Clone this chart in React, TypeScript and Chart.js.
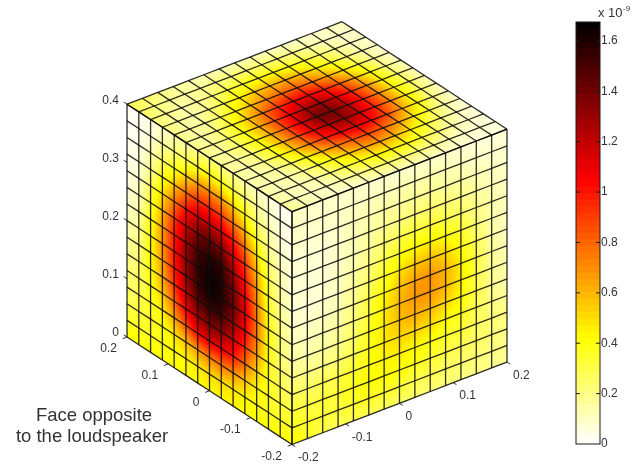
import React, { useEffect, useRef } from "react";
import { Chart, registerables } from "chart.js";

Chart.register(...registerables);

// Pressure values at the mesh nodes, in hundredths of 1e-9.
// Rows run from the top of the cube down; columns run from the left corner towards the front corner.
const LEFT_FACE = [
  [1, 2, 4, 9, 12, 14, 19, 22, 21, 18, 15, 11, 6, 3, 2],
  [2, 3, 7, 14, 22, 28, 36, 40, 38, 30, 24, 16, 10, 5, 3],
  [3, 4, 12, 26, 36, 52, 66, 70, 66, 55, 40, 24, 14, 7, 4],
  [4, 6, 18, 36, 56, 78, 92, 95, 90, 76, 58, 35, 18, 9, 5],
  [5, 8, 26, 50, 76, 100, 118, 122, 115, 98, 76, 49, 24, 13, 6],
  [7, 11, 32, 60, 90, 118, 138, 145, 138, 116, 90, 60, 30, 15, 7],
  [9, 14, 37, 66, 98, 128, 150, 160, 155, 130, 100, 67, 34, 17, 9],
  [12, 18, 40, 68, 100, 132, 156, 165, 160, 140, 108, 73, 38, 20, 12],
  [15, 21, 41, 66, 98, 130, 154, 165, 160, 142, 112, 76, 40, 22, 14],
  [18, 24, 40, 62, 92, 122, 146, 156, 152, 134, 106, 74, 40, 24, 16],
  [22, 26, 38, 56, 80, 108, 130, 138, 134, 118, 94, 66, 38, 26, 20],
  [25, 28, 36, 46, 64, 86, 106, 112, 110, 100, 78, 54, 36, 29, 25],
  [30, 31, 34, 40, 48, 58, 68, 74, 76, 70, 56, 44, 36, 33, 31],
  [36, 36, 37, 38, 41, 44, 47, 50, 50, 48, 44, 40, 37, 36, 36],
  [43, 42, 42, 41, 41, 42, 42, 43, 43, 43, 42, 41, 41, 42, 43],
];

// Rows from the top down; columns from the front corner towards the right corner.
const RIGHT_FACE = [
  [10, 9, 8, 8, 8, 8, 8, 8, 8, 8, 8, 7, 7, 6, 6],
  [10, 9, 9, 9, 10, 11, 11, 12, 13, 13, 12, 11, 9, 8, 8],
  [9, 8, 8, 9, 11, 13, 15, 17, 18, 18, 17, 15, 13, 10, 9],
  [7, 7, 7, 9, 12, 15, 18, 21, 23, 24, 23, 20, 16, 12, 10],
  [7, 7, 7, 9, 13, 18, 23, 29, 33, 33, 31, 26, 20, 14, 11],
  [7, 7, 7, 10, 15, 21, 30, 38, 43, 45, 41, 33, 24, 14, 11],
  [7, 7, 8, 11, 17, 25, 36, 48, 56, 58, 52, 40, 27, 15, 11],
  [9, 9, 10, 13, 20, 30, 42, 56, 66, 68, 60, 46, 30, 17, 12],
  [12, 12, 13, 16, 23, 33, 46, 60, 68, 68, 60, 46, 31, 18, 13],
  [15, 15, 16, 19, 26, 36, 48, 58, 62, 60, 52, 42, 30, 19, 14],
  [20, 20, 21, 24, 30, 38, 47, 52, 52, 49, 43, 36, 28, 21, 17],
  [27, 26, 27, 30, 35, 40, 44, 45, 43, 40, 36, 32, 27, 23, 20],
  [33, 31, 31, 34, 38, 41, 42, 41, 38, 34, 31, 28, 26, 23, 20],
  [38, 35, 32, 32, 35, 36, 35, 33, 30, 28, 26, 24, 23, 21, 19],
  [43, 36, 30, 28, 29, 28, 27, 26, 25, 23, 22, 21, 20, 19, 18],
];

// Rows from the left/back edge towards the front/right edge; columns from the left corner towards the back corner.
const TOP_FACE = [
  [28, 25, 20, 16, 13, 12, 12, 12, 11, 10, 9, 9, 9, 10, 12],
  [27, 22, 18, 16, 17, 20, 23, 24, 24, 22, 19, 15, 11, 9, 9],
  [24, 19, 15, 16, 22, 30, 36, 40, 41, 38, 32, 25, 17, 11, 9],
  [22, 17, 14, 20, 30, 44, 54, 60, 63, 58, 47, 35, 23, 13, 9],
  [20, 15, 17, 27, 42, 59, 72, 80, 83, 76, 64, 48, 31, 17, 9],
  [19, 15, 21, 36, 56, 76, 94, 104, 108, 99, 84, 62, 40, 22, 10],
  [19, 17, 25, 41, 62, 85, 108, 126, 130, 116, 94, 70, 45, 25, 11],
  [18, 17, 26, 42, 62, 88, 114, 138, 140, 124, 98, 72, 46, 26, 11],
  [17, 17, 24, 40, 61, 86, 110, 128, 132, 118, 96, 72, 45, 24, 10],
  [16, 15, 21, 35, 56, 76, 96, 108, 112, 104, 86, 64, 40, 20, 9],
  [15, 14, 17, 27, 42, 60, 74, 84, 88, 80, 66, 48, 30, 15, 8],
  [14, 13, 14, 20, 30, 44, 56, 64, 66, 60, 48, 33, 21, 11, 7],
  [14, 12, 12, 15, 22, 31, 38, 43, 44, 40, 33, 23, 14, 9, 6],
  [16, 12, 11, 11, 14, 19, 23, 25, 25, 22, 18, 13, 9, 7, 6],
  [20, 15, 11, 9, 9, 10, 11, 11, 11, 10, 9, 8, 7, 6, 6],
];

const HORIZONTAL_TICKS = [-0.2, -0.1, 0, 0.1, 0.2];
const HORIZONTAL_LABELS = ["-0.2", "-0.1", "0", "0.1", "0.2"];
const HEIGHT_TICKS = [0, 0.1, 0.2, 0.3, 0.4];
const HEIGHT_LABELS = ["0", "0.1", "0.2", "0.3", "0.4"];
const COLORBAR_TICKS = [0, 0.2, 0.4, 0.6, 0.8, 1, 1.2, 1.4, 1.6];
const COLORBAR_LABELS = ["0", "0.2", "0.4", "0.6", "0.8", "1", "1.2", "1.4", "1.6"];
const COLORBAR_MAX = 1.675;
const COLOR_LEVELS = 64;
const NOTE_LINES = ["Face opposite", "to the loudspeaker"];
const EXPONENT_BASE = "x 10";
const EXPONENT_POWER = "-9";

const FONT = '"Liberation Sans", Arial, sans-serif';
const TEXT_COLOR = "#333333";
const MESH_COLOR = "rgba(15,15,15,0.88)";
const NODES = 15;
const HALF = 0.2;
const TOP = 0.4;

// MATLAB's default 3-D view.
const AZ = (-37.5 * Math.PI) / 180;
const EL = (30 * Math.PI) / 180;
const Z_ASPECT = 0.992;

type V3 = [number, number, number];

function project([x, y, z]: V3) {
  return {
    x: Math.cos(AZ) * x + Math.sin(AZ) * y,
    y: -Math.sin(EL) * Math.sin(AZ) * x + Math.sin(EL) * Math.cos(AZ) * y + Math.cos(EL) * z * Z_ASPECT,
  };
}

const frac = (i: number) => i / (NODES - 1);
const up = (f: number) => -HALF + 2 * HALF * f;
const down = (f: number) => HALF - 2 * HALF * f;

const faces = [
  { rows: LEFT_FACE, node: (i: number, j: number): V3 => [-HALF, down(frac(i)), TOP * (1 - frac(j))] },
  { rows: RIGHT_FACE, node: (i: number, j: number): V3 => [up(frac(i)), -HALF, TOP * (1 - frac(j))] },
  { rows: TOP_FACE, node: (i: number, j: number): V3 => [up(frac(i)), down(frac(j)), TOP] },
];

function hotReversed(v: number): [number, number, number] {
  const t = Math.max(0, Math.min(1, v / COLORBAR_MAX));
  const r = t < 0.625 ? 1 : 1 - (t - 0.625) / 0.375;
  const g = t < 0.25 ? 1 : t < 0.625 ? 1 - (t - 0.25) / 0.375 : 0;
  const b = t < 0.25 ? 1 - t / 0.25 : 0;
  return [Math.round(r * 255), Math.round(g * 255), Math.round(b * 255)];
}

const SUB = 6;
function faceImage(rows: number[][]) {
  const n = (NODES - 1) * SUB + 1;
  const off = document.createElement("canvas");
  off.width = n;
  off.height = n;
  const octx = off.getContext("2d")!;
  const img = octx.createImageData(n, n);
  for (let py = 0; py < n; py++) {
    const fy = py / SUB;
    const j0 = Math.min(NODES - 2, Math.floor(fy));
    const ty = fy - j0;
    for (let px = 0; px < n; px++) {
      const fx = px / SUB;
      const i0 = Math.min(NODES - 2, Math.floor(fx));
      const tx = fx - i0;
      const v =
        (rows[j0][i0] * (1 - tx) * (1 - ty) +
          rows[j0][i0 + 1] * tx * (1 - ty) +
          rows[j0 + 1][i0] * (1 - tx) * ty +
          rows[j0 + 1][i0 + 1] * tx * ty) /
        100;
      const [r, g, b] = hotReversed(v);
      const k = (py * n + px) * 4;
      img.data[k] = r;
      img.data[k + 1] = g;
      img.data[k + 2] = b;
      img.data[k + 3] = 255;
    }
  }
  octx.putImageData(img, 0, 0);
  return { off, n };
}

const heatPlugin = {
  id: "heatFaces",
  beforeDatasetsDraw(chart: any) {
    const { ctx, scales } = chart;
    for (const ds of chart.data.datasets) {
      if (!ds.faceRows) continue;
      const px = (p: any) => ({ x: scales.x.getPixelForValue(p.x), y: scales.y.getPixelForValue(p.y) });
      const p00 = px(ds.data[0]);
      const p10 = px(ds.data[NODES - 1]);
      const p01 = px(ds.data[(NODES - 1) * NODES]);
      const { off, n } = faceImage(ds.faceRows);
      const span = n - 1;
      ctx.save();
      ctx.imageSmoothingEnabled = true;
      ctx.transform(
        (p10.x - p00.x) / span,
        (p10.y - p00.y) / span,
        (p01.x - p00.x) / span,
        (p01.y - p00.y) / span,
        p00.x,
        p00.y
      );
      ctx.drawImage(off, 0.5, 0.5, span, span, 0, 0, span, span);
      ctx.restore();
    }
  },
};

const labelsPlugin = {
  id: "axisLabels",
  afterDatasetsDraw(chart: any) {
    const { ctx, scales } = chart;
    const at = (v: V3) => {
      const p = project(v);
      return { x: scales.x.getPixelForValue(p.x), y: scales.y.getPixelForValue(p.y) };
    };
    ctx.save();
    ctx.fillStyle = TEXT_COLOR;
    ctx.textBaseline = "middle";
    ctx.font = `12px ${FONT}`;
    ctx.textAlign = "right";
    HEIGHT_TICKS.forEach((z, i) => {
      const p = at([-HALF, HALF, z]);
      ctx.fillText(HEIGHT_LABELS[i], p.x - 8, p.y - 4);
    });
    HORIZONTAL_TICKS.forEach((y, i) => {
      const p = at([-HALF, y, 0]);
      ctx.fillText(HORIZONTAL_LABELS[i], p.x - 10, p.y + 12);
    });
    ctx.textAlign = "left";
    HORIZONTAL_TICKS.forEach((x, i) => {
      const p = at([x, -HALF, 0]);
      ctx.fillText(HORIZONTAL_LABELS[i], p.x + 6, p.y + 13.5);
    });
    ctx.font = `18.5px ${FONT}`;
    ctx.textAlign = "center";
    ctx.fillText(NOTE_LINES[0], 94, 416);
    ctx.fillText(NOTE_LINES[1], 92, 437);
    ctx.restore();
  },
};

const colorbarPlugin = {
  id: "colorbarFrame",
  afterDatasetsDraw(chart: any) {
    const { ctx, chartArea: a, scales } = chart;
    ctx.save();
    ctx.strokeStyle = "#1a1a1a";
    ctx.lineWidth = 1;
    ctx.strokeRect(a.left, a.top, a.right - a.left, a.bottom - a.top);
    ctx.beginPath();
    COLORBAR_TICKS.slice(1).forEach((t) => {
      const y = scales.y.getPixelForValue(t);
      ctx.moveTo(a.left, y);
      ctx.lineTo(a.left + 4, y);
      ctx.moveTo(a.right - 4, y);
      ctx.lineTo(a.right, y);
    });
    ctx.stroke();
    ctx.fillStyle = TEXT_COLOR;
    ctx.textBaseline = "middle";
    ctx.textAlign = "left";
    ctx.font = `13px ${FONT}`;
    ctx.fillText(EXPONENT_BASE, a.right - 2, 13);
    ctx.font = `8px ${FONT}`;
    ctx.fillText(EXPONENT_POWER, a.right + 23, 9);
    ctx.restore();
  },
};

export default function App() {
  const cubeRef = useRef<HTMLCanvasElement>(null);
  const barRef = useRef<HTMLCanvasElement>(null);

  useEffect(() => {
    const datasets: any[] = [];
    faces.forEach((f) => {
      const pts: any[] = [];
      for (let j = 0; j < NODES; j++) for (let i = 0; i < NODES; i++) pts.push(project(f.node(i, j)));
      datasets.push({ data: pts, faceRows: f.rows, pointRadius: 0, showLine: false });
    });
    const line = (pts: V3[], width: number, color: string) =>
      datasets.push({
        data: pts.map(project),
        showLine: true,
        pointRadius: 0,
        borderWidth: width,
        borderColor: color,
        tension: 0,
      });
    faces.forEach((f) => {
      for (let k = 0; k < NODES; k++) {
        const a: V3[] = [];
        const b: V3[] = [];
        for (let m = 0; m < NODES; m++) {
          a.push(f.node(k, m));
          b.push(f.node(m, k));
        }
        line(a, 1.3, MESH_COLOR);
        line(b, 1.3, MESH_COLOR);
      }
    });
    const TICK = 0.008;
    HEIGHT_TICKS.forEach((z) => line([[-HALF, HALF, z], [-HALF, HALF + TICK, z]], 1, TEXT_COLOR));
    HORIZONTAL_TICKS.forEach((y) => line([[-HALF, y, 0], [-HALF - TICK, y, 0]], 1, TEXT_COLOR));
    HORIZONTAL_TICKS.forEach((x) => line([[x, -HALF, 0], [x, -HALF - TICK, 0]], 1, TEXT_COLOR));

    const cube = new Chart(cubeRef.current!, {
      type: "scatter",
      data: { datasets },
      plugins: [heatPlugin, labelsPlugin],
      options: {
        animation: false,
        responsive: false,
        layout: { padding: 0 },
        plugins: { legend: { display: false }, tooltip: { enabled: false } },
        scales: {
          x: { display: false, min: -0.4679, max: 0.4782 },
          y: { display: false, min: -0.1793, max: 0.5159 },
        },
      },
    } as any);

    const levelTops = Array.from({ length: COLOR_LEVELS }, (_, i) => ((i + 1) / COLOR_LEVELS) * COLORBAR_MAX);
    const bar = new Chart(barRef.current!, {
      type: "bar",
      data: {
        labels: [""],
        datasets: levelTops.map((top, i) => {
          const [r, g, b] = hotReversed(((i + 0.5) / COLOR_LEVELS) * COLORBAR_MAX);
          return {
            data: [top],
            backgroundColor: `rgb(${r},${g},${b})`,
            borderWidth: 0,
            barPercentage: 1,
            categoryPercentage: 1,
            grouped: false,
          };
        }),
      },
      plugins: [colorbarPlugin],
      options: {
        animation: false,
        responsive: false,
        layout: { padding: { left: 36, right: 0, top: 22, bottom: 27 } },
        plugins: { legend: { display: false }, tooltip: { enabled: false } },
        scales: {
          x: { display: false },
          y: {
            position: "right",
            min: 0,
            max: COLORBAR_MAX,
            grid: { display: false, drawTicks: false, tickLength: 0 },
            border: { display: false },
            afterBuildTicks: (s: any) => {
              s.ticks = COLORBAR_TICKS.map((value) => ({ value }));
            },
            afterFit: (s: any) => {
              s.width = 41;
            },
            ticks: {
              autoSkip: false,
              padding: 1,
              color: TEXT_COLOR,
              font: { family: FONT, size: 12 },
              callback: (v: number) => COLORBAR_LABELS[COLORBAR_TICKS.indexOf(v)],
            },
          },
        },
      },
    } as any);

    return () => {
      cube.destroy();
      bar.destroy();
    };
  }, []);

  return (
    <div style={{ position: "fixed", left: 0, top: 0, width: 641, height: 471, background: "#fff" }}>
      <canvas ref={cubeRef} width={641} height={471} style={{ position: "absolute", left: 0, top: 0 }} />
      <canvas ref={barRef} width={101} height={471} style={{ position: "absolute", left: 540, top: 0 }} />
    </div>
  );
}
